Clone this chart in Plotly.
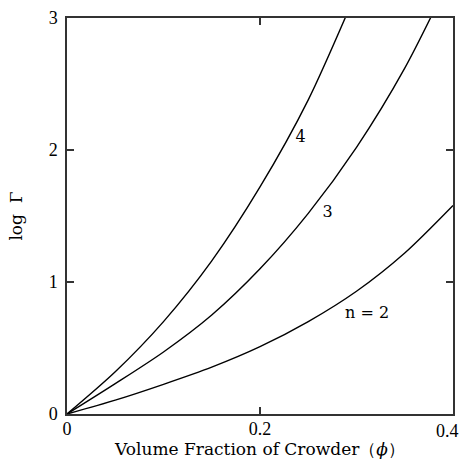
import plotly.graph_objects as go

phi = [0.0, 0.05, 0.10, 0.15, 0.20, 0.25, 0.30, 0.35, 0.40]
log_gamma_n2 = [0.0, 0.105, 0.225, 0.355, 0.51, 0.70, 0.93, 1.22, 1.58]
log_gamma_n3 = [0.0, 0.23, 0.47, 0.75, 1.10, 1.52, 2.02, 2.62, 3.35]
log_gamma_n4 = [0.0, 0.32, 0.70, 1.16, 1.72, 2.38, 3.20]

labels = ["n = 2", "3", "4"]
label_x = [0.311, 0.27, 0.242]
label_y = [0.76, 1.52, 2.09]

x_ticks = [0, 0.2, 0.4]
x_ticktext = ["0", "0.2", ""]
edge_tick_value = 0.4
edge_tick_text = "0.4"
y_ticks = [0, 1, 2, 3]

TICKFONT = "Liberation Serif, DejaVu Serif, serif"
TEXTFONT = "DejaVu Serif, Liberation Serif, serif"

fig = go.Figure()
for ys in (log_gamma_n2, log_gamma_n3, log_gamma_n4):
    fig.add_trace(go.Scatter(
        x=phi[:len(ys)], y=ys, mode="lines",
        line=dict(color="black", width=1.4, shape="spline", smoothing=0.8),
        showlegend=False, hoverinfo="skip"))

fig.add_trace(go.Scatter(
    x=label_x, y=label_y, mode="text", text=labels,
    textfont=dict(family=TEXTFONT, size=16, color="black"),
    showlegend=False, hoverinfo="skip"))

# last x tick label sits at the right edge of the picture, nudged inward
fig.add_annotation(x=edge_tick_value, xref="x", y=0, yref="paper",
                   text=edge_tick_text, showarrow=False,
                   xanchor="right", yanchor="top", xshift=8, yshift=-5,
                   font=dict(family=TICKFONT, size=18, color="black"))

axis_common = dict(
    showgrid=False, zeroline=False, showline=True, linecolor="#333",
    linewidth=1.5, mirror="ticks", ticks="inside", ticklen=7,
    tickwidth=1.5, tickcolor="#333", ticklabeloverflow="allow",
    automargin=False,
    tickfont=dict(family=TICKFONT, size=18, color="black"))

fig.update_xaxes(range=[0, 0.4], tickvals=x_ticks, ticktext=x_ticktext,
                 ticklabelstandoff=-2,
                 title=dict(text="Volume Fraction of Crowder（<i>ϕ</i>）",
                            font=dict(family=TEXTFONT, size=17, color="black"),
                            standoff=9),
                 **axis_common)
fig.update_yaxes(range=[0, 3], tickvals=y_ticks, ticklabelstandoff=4,
                 title=dict(text="log\u00a0\u00a0Γ\u00a0\u00a0\u00a0",
                            font=dict(family=TEXTFONT, size=17, color="black"),
                            standoff=22),
                 **axis_common)

fig.update_layout(
    width=461, height=459,
    margin=dict(l=67, r=8, t=18, b=45),
    plot_bgcolor="white", paper_bgcolor="white")

fig.write_html("out.html")
